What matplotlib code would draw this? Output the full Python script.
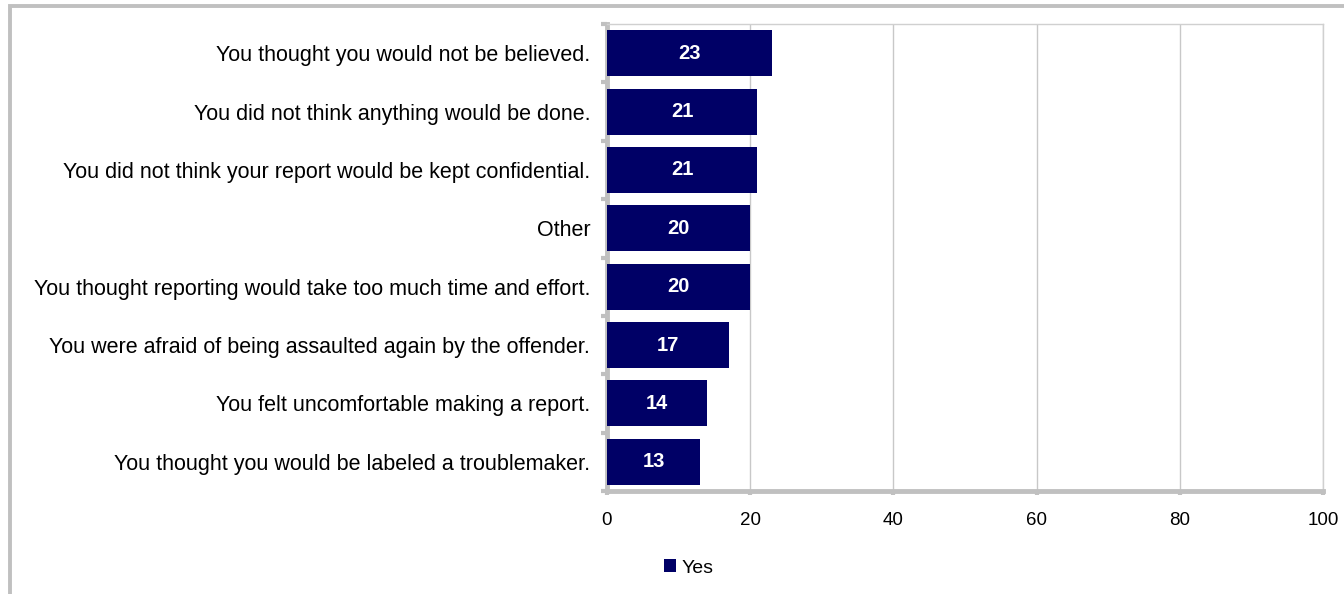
import matplotlib
matplotlib.use('Agg')
import matplotlib.pyplot as plt
import numpy as np
from matplotlib.patches import Rectangle

reasons = [
    "You thought you would not be believed.",
    "You did not think anything would be done.",
    "You did not think your report would be kept confidential.",
    "Other",
    "You thought reporting would take too much time and effort.",
    "You were afraid of being assaulted again by the offender.",
    "You felt uncomfortable making a report.",
    "You thought you would be labeled a troublemaker.",
]
yes = [23, 21, 21, 20, 20, 17, 14, 13]
xticks = [0, 20, 40, 60, 80, 100]

plt.rcParams['font.family'] = ['Liberation Sans', 'DejaVu Sans']
navy = '#000066'
gray = '#c0c0c0'

fig = plt.figure(figsize=(13.44, 5.94), dpi=100)
ax = fig.add_axes([607/1344, 1 - 491/594, 716/1344, 467/594])

# outer chart frame (only left/top edges visible)
fig.patches.append(Rectangle((9.5/1344, -0.1), 1.2, 1 - 5.5/594 + 0.1,
                             transform=fig.transFigure, fill=False,
                             edgecolor=gray, linewidth=2.8))

pos = np.arange(len(reasons))
bars = ax.barh(pos, yes, height=0.79, color=navy, label='Yes', zorder=3)
for b, v in zip(bars, yes):
    ax.text(v / 2, b.get_y() + b.get_height() / 2, str(v), color='white',
            fontsize=14.5, fontweight='bold', ha='center', va='center', zorder=4)

ax.set_xlim(0, 100)
ax.set_ylim(len(reasons) - 0.5, -0.5)
ax.set_xticks(xticks)
ax.set_yticks(pos)
ax.set_yticklabels(reasons)
ax.set_yticks(np.arange(len(reasons) + 1) - 0.5, minor=True)
ax.tick_params(axis='y', which='major', length=0, pad=12, labelsize=15.5)
ax.tick_params(axis='y', which='minor', length=4, width=3, color=gray, direction='out')
ax.tick_params(axis='x', length=3, width=3, color=gray, pad=12, labelsize=13.5)
ax.xaxis.grid(True, color='#c8c8c8', linewidth=1, zorder=0)

for s in ['top', 'right']:
    ax.spines[s].set_color('#d0d0d0')
    ax.spines[s].set_linewidth(1)
for s in ['left', 'bottom']:
    ax.spines[s].set_color(gray)
    ax.spines[s].set_linewidth(3.5)

fig.legend(loc='center', bbox_to_anchor=(689/1344, 1 - 568/594), frameon=False,
           fontsize=14, handlelength=0.6, handleheight=0.6, handletextpad=0.3)

fig.savefig('out.png', dpi=100)
